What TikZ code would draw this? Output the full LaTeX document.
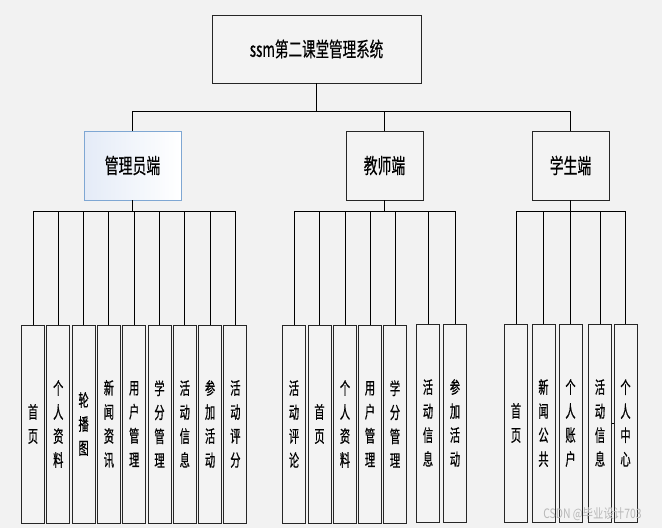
\documentclass[tikz,border=0pt]{standalone}
\usepackage{fontspec}
\newfontfamily\cjk[FakeStretch=0.66,FakeBold=0.4]{Noto Sans CJK SC}
\newfontfamily\cjkleaf[FakeStretch=0.6,FakeBold=0.6]{Noto Sans CJK SC}
\newfontfamily\cjkwm[FakeStretch=0.8]{Noto Sans CJK SC}
\definecolor{bg}{HTML}{F2F2F2}
\definecolor{boxfill}{HTML}{F3F3F3}
\definecolor{adminborder}{HTML}{7FA7D3}
\definecolor{adminfill}{HTML}{E4EBF7}
\definecolor{wmgray}{HTML}{B8B8B8}
\begin{document}
\begin{tikzpicture}[x=1pt,y=-1pt,line width=0.9pt,
  every node/.style={inner sep=0pt,outer sep=0pt},
  topbox/.style={draw=black!85,fill=boxfill,minimum width=209pt,minimum height=68pt,
    font=\cjk\fontsize{20.5}{24}\selectfont},
  midbox/.style={draw=black!85,fill=boxfill,minimum width=77pt,minimum height=69pt,
    font=\cjk\fontsize{21}{24}\selectfont},
  adminbox/.style={draw=adminborder,left color=adminfill,right color=white,
    minimum width=97pt,minimum height=69pt,font=\cjk\fontsize{21}{24}\selectfont},
  leafbox/.style={draw=black!85,fill=boxfill,minimum width=23pt,minimum height=198pt,
    align=center,font=\cjkleaf\fontsize{17}{24}\selectfont},
  link/.style={draw=black,line width=0.9pt}
]
\fill[bg] (0,0) rectangle (662,528);

% top
\node[topbox] (top) at (316.5,49) {ssm第二课堂管理系统};
% level 2
\node[adminbox] (admin) at (132.5,165.5) {管理员端};
\node[midbox] (teacher) at (384.5,165.5) {教师端};
\node[midbox] (student) at (570.5,165.5) {学生端};

\coordinate (bus) at (316.5,111);
\coordinate (abus) at (132.5,211);
\coordinate (tbus) at (384.5,211);
\coordinate (sbus) at (570.5,211);

% admin leaves
\node[leafbox] (a1) at (33,424) {首\\页};
\node[leafbox] (a2) at (58.3,424) {个\\人\\资\\料};
\node[leafbox] (a3) at (83.6,424) {轮\\播\\图};
\node[leafbox] (a4) at (108.9,424) {新\\闻\\资\\讯};
\node[leafbox] (a5) at (134.2,424) {用\\户\\管\\理};
\node[leafbox] (a6) at (159.5,424) {学\\分\\管\\理};
\node[leafbox] (a7) at (184.8,424) {活\\动\\信\\息};
\node[leafbox] (a8) at (210.1,424) {参\\加\\活\\动};
\node[leafbox] (a9) at (235.4,424) {活\\动\\评\\分};

% teacher leaves
\node[leafbox] (t1) at (294,424) {活\\动\\评\\论};
\node[leafbox] (t2) at (319.5,424) {首\\页};
\node[leafbox] (t3) at (345,424) {个\\人\\资\\料};
\node[leafbox] (t4) at (370,424) {用\\户\\管\\理};
\node[leafbox] (t5) at (395,424) {学\\分\\管\\理};
\node[leafbox] (t6) at (428,423) {活\\动\\信\\息};
\node[leafbox] (t7) at (455,423) {参\\加\\活\\动};

% student leaves
\node[leafbox] (s1) at (516,423) {首\\页};
\node[leafbox] (s2) at (543.5,423) {新\\闻\\公\\共};
\node[leafbox] (s3) at (570.5,423) {个\\人\\账\\户};
\node[leafbox] (s4) at (600,423) {活\\动\\信\\息};
\node[leafbox] (s5) at (625.5,423) {个\\人\\中\\心};

% connectors level 1
\draw[link] (top.south) -- (bus);
\draw[link] (admin.north) |- (student.north |- bus) -- (student.north);
\draw[link] (teacher.north) -- (teacher.north |- bus);

% admin connectors
\draw[link] (admin.south) -- (abus);
\draw[link] (a1.north) |- (a9.north |- abus) -- (a9.north);
\foreach \n in {a2,a3,a4,a5,a6,a7,a8}
  \draw[link] (\n.north) -- (\n.north |- abus);

% teacher connectors
\draw[link] (teacher.south) -- (tbus);
\draw[link] (t1.north) |- (t7.north |- tbus) -- (t7.north);
\foreach \n in {t2,t3,t4,t5,t6}
  \draw[link] (\n.north) -- (\n.north |- tbus);

% student connectors
\draw[link] (student.south) -- (sbus);
\draw[link] (s1.north) |- (s5.north |- sbus) -- (s5.north);
\foreach \n in {s2,s3,s4}
  \draw[link] (\n.north) -- (\n.north |- sbus);
\draw[link,line width=0.6pt] (s4.east) -- (s5.west);

% watermark
\node[text=wmgray,font=\cjkwm\fontsize{13}{14}\selectfont] (wm) at (592.5,514) {CSDN @毕业设计703};
\end{tikzpicture}
\end{document}
